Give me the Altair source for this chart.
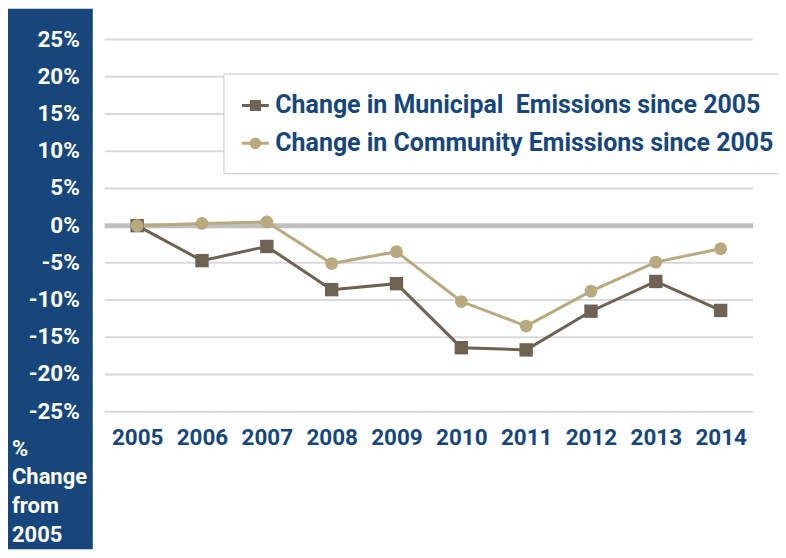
import altair as alt
import pandas as pd

years = ["2005", "2006", "2007", "2008", "2009", "2010", "2011", "2012", "2013", "2014"]
municipal = [0.0, -4.7, -2.8, -8.6, -7.8, -16.4, -16.7, -11.5, -7.5, -11.4]
community = [0.0, 0.3, 0.5, -5.1, -3.5, -10.2, -13.5, -8.8, -4.9, -3.1]
series_names = ["Change in Municipal\u00a0 Emissions since 2005",
                "Change in Community Emissions since 2005"]
series_colors = ["#6D6253", "#B8A97F"]
y_ticks = [25, 20, 15, 10, 5, 0, -5, -10, -15, -20, -25]
y_title = ["%", "Change", "from", "2005"]

FONT = "Roboto"
BLUE = "#16467B"

df = pd.DataFrame({
    "year": years * 2,
    "value": municipal + community,
    "series": [series_names[0]] * len(years) + [series_names[1]] * len(years),
})
ticks_df = pd.DataFrame({"tick": y_ticks})
panel_df = pd.DataFrame({"panel": [0]})
title_df = pd.DataFrame({"t": ["\n".join(y_title)]})

yscale = alt.Scale(domain=[-25, 25], nice=False, zero=False)
xaxis = alt.Axis(title=None, domain=False, ticks=False, tickSize=0, grid=False,
                 labelFont=FONT, labelFontSize=22.5, labelFontWeight="bold",
                 labelColor=BLUE, labelPadding=15, labelAngle=0)
xenc = alt.X("year:O", sort=years, scale=alt.Scale(type="point", padding=0.5), axis=xaxis)
ynone = alt.Y("value:Q", scale=yscale, axis=None)

panel = alt.Chart(panel_df).mark_rect(color=BLUE).encode(
    x=alt.value(-97), x2=alt.value(-12), y=alt.value(-31), y2=alt.value(511)
)

grid = alt.Chart(ticks_df).mark_rule(color="#D9D9D9", strokeWidth=2).encode(
    y=alt.Y("tick:Q", scale=yscale, axis=None)
)

ylabels = alt.Chart(ticks_df).transform_calculate(
    label="datum.tick + '%'"
).mark_text(align="right", baseline="middle", font=FONT, fontSize=22.5,
            fontWeight="bold", color="white").encode(
    y=alt.Y("tick:Q", scale=yscale, axis=None),
    x=alt.value(-25),
    text="label:N",
)

ytitle = alt.Chart(title_df).mark_text(
    align="left", baseline="top", lineBreak="\n", lineHeight=29,
    font=FONT, fontSize=22, fontWeight="bold", color="white"
).encode(x=alt.value(-93), y=alt.value(400), text="t:N")

zero = alt.Chart(panel_df).mark_rule(color="#BFBFBF", strokeWidth=5).encode(
    y=alt.datum(0, scale=yscale, axis=None)
)

line_m = alt.Chart(df).transform_filter(
    alt.datum.series == series_names[0]
).mark_line(color=series_colors[0], strokeWidth=3).encode(x=xenc, y=ynone)

line_c = alt.Chart(df).transform_filter(
    alt.datum.series == series_names[1]
).mark_line(color=series_colors[1], strokeWidth=3).encode(x=xenc, y=ynone)

pts_m = alt.Chart(df).transform_filter(
    alt.datum.series == series_names[0]
).mark_square(color=series_colors[0], size=180, opacity=1).encode(x=xenc, y=ynone)

pts_c = alt.Chart(df).transform_filter(
    alt.datum.series == series_names[1]
).mark_circle(color=series_colors[1], size=165, opacity=1).encode(x=xenc, y=ynone)

path_sq = "M-1,0H1M-0.3,-0.3H0.3V0.3H-0.3Z"
path_ci = "M-1,0H1M0.32,0A0.32,0.32,0,1,1,-0.32,0A0.32,0.32,0,1,1,0.32,0Z"

leg = alt.Legend(title=None, orient="none", legendX=119, legendY=34, direction="vertical",
                 fillColor="white", strokeColor="#C8C8C8", padding=17, rowPadding=10,
                 symbolSize=729, symbolStrokeWidth=3, symbolOpacity=1,
                 labelFont=FONT, labelFontSize=25, labelFontWeight="bold",
                 labelColor=BLUE, labelOffset=5, labelLimit=700)

legend_layer = alt.Chart(df).mark_point(filled=True, opacity=0, size=10).encode(
    x=xenc, y=ynone,
    fill=alt.Fill("series:N", scale=alt.Scale(domain=series_names, range=series_colors), legend=leg),
    stroke=alt.Stroke("series:N", scale=alt.Scale(domain=series_names, range=series_colors), legend=leg),
    shape=alt.Shape("series:N", scale=alt.Scale(domain=series_names, range=[path_sq, path_ci]), legend=leg),
)

chart = alt.layer(panel, grid, zero, line_m, line_c, pts_m, pts_c, ylabels, ytitle,
                  legend_layer).properties(
    width=650, height=373,
    autosize=alt.AutoSizeParams(type="none"),
    padding={"left": 97, "top": 31, "right": 25, "bottom": 138},
    background="white",
).configure_view(stroke=None)

chart.save("out.html", embed_options={"renderer": "svg", "actions": False})
